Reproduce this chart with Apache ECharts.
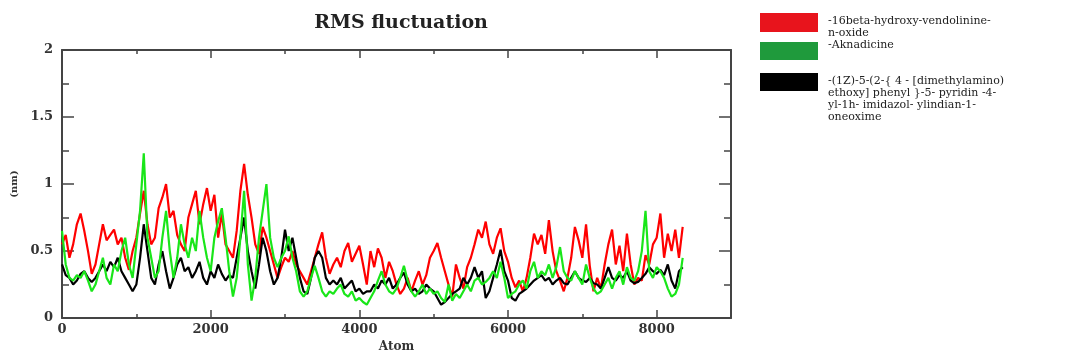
<!DOCTYPE html>
<html>
<head>
<meta charset="utf-8">
<script src="https://cdn.jsdelivr.net/npm/echarts@6/dist/echarts.min.js"></script>
<style>
  html, body { margin: 0; padding: 0; background: #fff; }
  #chart { width: 1065px; height: 358px; }
</style>
</head>
<body>
<div id="chart"></div>
<script>
// RMSF per atom, every 50 atoms (nm)
const atomStep = 50;
const xTicks = [0, 2000, 4000, 6000, 8000];
const yTicks = [0, 0.5, 1, 1.5, 2];

const seriesNames = [
    "-16beta-hydroxy-vendolinine-\nn-oxide",
    "-Aknadicine",
    "-(1Z)-5-(2-{ 4 - [dimethylamino)\nethoxy] phenyl }-5- pyridin -4-\nyl-1h- imidazol- ylindian-1-\noneoxime"
];

const red = [
    0.55, 0.62, 0.45, 0.55, 0.70, 0.78, 0.65, 0.50, 0.33, 0.40,
    0.55, 0.70, 0.58, 0.62, 0.66, 0.55, 0.60, 0.45, 0.36, 0.50,
    0.60, 0.78, 0.95, 0.70, 0.55, 0.60, 0.82, 0.90, 1.00, 0.75,
    0.80, 0.62, 0.55, 0.50, 0.75, 0.85, 0.95, 0.70, 0.85, 0.97,
    0.80, 0.92, 0.60, 0.78, 0.55, 0.50, 0.45, 0.65, 0.95, 1.15,
    0.92, 0.75, 0.55, 0.48, 0.68, 0.60, 0.50, 0.40, 0.30, 0.38,
    0.45, 0.42, 0.50, 0.40, 0.35, 0.30, 0.25, 0.35, 0.45, 0.55,
    0.64, 0.45, 0.33, 0.40, 0.45, 0.38, 0.50, 0.56, 0.42, 0.48,
    0.54, 0.40, 0.25, 0.50, 0.38, 0.52, 0.45, 0.30, 0.42, 0.35,
    0.25, 0.18, 0.22, 0.30, 0.20, 0.28, 0.35, 0.25, 0.32, 0.45,
    0.50, 0.56, 0.45, 0.35, 0.25, 0.16, 0.40, 0.30, 0.22, 0.38,
    0.45, 0.55, 0.66, 0.60, 0.72, 0.55, 0.48, 0.60, 0.67, 0.50,
    0.42, 0.30, 0.23, 0.28, 0.20, 0.30, 0.45, 0.63, 0.55, 0.62,
    0.48, 0.73, 0.50, 0.35, 0.28, 0.20, 0.30, 0.45, 0.68, 0.58,
    0.45, 0.70, 0.39, 0.20, 0.30, 0.22, 0.40, 0.55, 0.66, 0.40,
    0.54, 0.35, 0.63, 0.40, 0.25, 0.30, 0.28, 0.47, 0.40, 0.55,
    0.60, 0.78, 0.45, 0.63, 0.50, 0.66, 0.45, 0.68
];

const green = [
    0.65, 0.40, 0.30, 0.28, 0.32, 0.30, 0.35, 0.28, 0.20, 0.25,
    0.35, 0.45, 0.30, 0.25, 0.40, 0.35, 0.50, 0.60, 0.40, 0.30,
    0.55, 0.80, 1.23, 0.60, 0.45, 0.30, 0.35, 0.60, 0.80, 0.50,
    0.30, 0.45, 0.70, 0.55, 0.45, 0.60, 0.50, 0.80, 0.60, 0.45,
    0.35, 0.60, 0.72, 0.82, 0.60, 0.35, 0.16, 0.30, 0.60, 0.95,
    0.40, 0.13, 0.30, 0.60, 0.80, 1.00, 0.60, 0.45, 0.38, 0.45,
    0.50, 0.61, 0.45, 0.35, 0.20, 0.16, 0.20, 0.30, 0.39, 0.30,
    0.20, 0.16, 0.20, 0.18, 0.22, 0.25, 0.18, 0.16, 0.20, 0.13,
    0.15, 0.12, 0.10, 0.15, 0.20, 0.28, 0.35, 0.25, 0.20, 0.18,
    0.22, 0.30, 0.39, 0.28, 0.20, 0.16, 0.20, 0.25, 0.18, 0.22,
    0.18, 0.20, 0.15, 0.12, 0.25, 0.13, 0.18, 0.15, 0.20, 0.25,
    0.20, 0.28, 0.30, 0.25, 0.27, 0.30, 0.35, 0.30, 0.42, 0.30,
    0.15, 0.18, 0.20, 0.25, 0.28, 0.22, 0.35, 0.42, 0.30, 0.35,
    0.32, 0.40, 0.30, 0.38, 0.53, 0.35, 0.30, 0.28, 0.35, 0.30,
    0.25, 0.40, 0.30, 0.22, 0.18, 0.20, 0.25, 0.30, 0.22, 0.30,
    0.35, 0.25, 0.38, 0.30, 0.28, 0.35, 0.50, 0.80, 0.35, 0.30,
    0.38, 0.35, 0.30, 0.22, 0.16, 0.18, 0.25, 0.45
];

const black = [
    0.40, 0.32, 0.30, 0.25, 0.28, 0.33, 0.35, 0.30, 0.27, 0.30,
    0.35, 0.40, 0.35, 0.42, 0.38, 0.45, 0.35, 0.30, 0.25, 0.20,
    0.25, 0.45, 0.70, 0.50, 0.30, 0.25, 0.40, 0.50, 0.35, 0.22,
    0.30, 0.40, 0.45, 0.35, 0.38, 0.30, 0.35, 0.42, 0.30, 0.25,
    0.35, 0.30, 0.40, 0.33, 0.28, 0.32, 0.30, 0.45, 0.60, 0.75,
    0.50, 0.35, 0.22, 0.40, 0.60, 0.50, 0.35, 0.25, 0.30, 0.45,
    0.66, 0.50, 0.60, 0.45, 0.30, 0.20, 0.18, 0.30, 0.45, 0.50,
    0.45, 0.30, 0.25, 0.28, 0.25, 0.30, 0.22, 0.25, 0.28, 0.20,
    0.22, 0.18, 0.20, 0.20, 0.25, 0.22, 0.28, 0.25, 0.30, 0.22,
    0.25, 0.30, 0.34, 0.25, 0.20, 0.22, 0.18, 0.20, 0.25, 0.22,
    0.20, 0.15, 0.10, 0.12, 0.15, 0.18, 0.20, 0.22, 0.30, 0.25,
    0.30, 0.38, 0.30, 0.35, 0.15, 0.20, 0.30, 0.40, 0.51, 0.35,
    0.28, 0.15, 0.13, 0.18, 0.20, 0.22, 0.25, 0.28, 0.30, 0.32,
    0.28, 0.30, 0.25, 0.28, 0.30, 0.26, 0.25, 0.30, 0.35, 0.30,
    0.28, 0.27, 0.30, 0.26, 0.25, 0.22, 0.30, 0.38, 0.30, 0.28,
    0.32, 0.30, 0.35, 0.28, 0.26, 0.27, 0.30, 0.33, 0.38, 0.35,
    0.33, 0.36, 0.32, 0.40, 0.28, 0.22, 0.35, 0.38
];

function toPoints(vals) {
    return vals.map((v, i) => [i * atomStep, v]);
}

const axisColor = "#444";
const serif = "DejaVu Serif";

const chart = echarts.init(document.getElementById("chart"));

// frame axes: ticks point inward on all four sides
function frameAxis(extra, tickLen, minorLen) {
    return Object.assign({
        type: "value",
        axisLine: { show: true, onZero: false, lineStyle: { color: axisColor, width: 2 } },
        axisTick: { show: true, inside: true, length: tickLen, lineStyle: { color: axisColor, width: 1.5 } },
        minorTick: { show: true, splitNumber: 2, length: minorLen, lineStyle: { color: axisColor, width: 1.5 } },
        splitLine: { show: false },
        axisLabel: { show: false }
    }, extra);
}

const labelStyle = {
    show: true,
    color: "#333",
    fontFamily: serif,
    fontWeight: "bold",
    fontSize: 13
};

chart.setOption({
    animation: false,
    backgroundColor: "#fff",
    title: {
        text: "RMS fluctuation",
        left: 396,
        top: 9,
        textAlign: "center",
        textStyle: { fontFamily: serif, fontWeight: "bold", fontSize: 19, color: "#222" }
    },
    grid: { left: 62, right: 334, top: 50, bottom: 26 },
    xAxis: [
        frameAxis({
            position: "bottom",
            min: 0, max: 9000, interval: 2000,
            axisLabel: Object.assign({ margin: 5, formatter: v => xTicks.includes(v) ? String(v) : "" }, labelStyle),
            name: "Atom",
            nameLocation: "middle",
            nameGap: 16,
            nameTextStyle: { fontFamily: serif, fontWeight: "bold", fontSize: 12, color: "#333" }
        }, 8, 4),
        frameAxis({ position: "top", min: 0, max: 9000, interval: 2000 }, 8, 4)
    ],
    yAxis: [
        frameAxis({
            position: "left",
            min: 0, max: 2, interval: 0.5,
            axisLabel: Object.assign({ margin: 9, formatter: v => yTicks.includes(v) ? String(v) : "" }, labelStyle),
            name: "(nm)",
            nameLocation: "middle",
            nameGap: 35,
            nameRotate: 90,
            nameTextStyle: { fontFamily: serif, fontWeight: "bold", fontSize: 10, color: "#333" }
        }, 12, 7),
        frameAxis({ position: "right", min: 0, max: 2, interval: 0.5 }, 12, 7)
    ],
    series: [
        {
            name: seriesNames[0],
            type: "line",
            data: toPoints(red),
            showSymbol: false,
            lineStyle: { color: "#ff0000", width: 2.2 },
            z: 2
        },
        {
            name: seriesNames[2],
            type: "line",
            data: toPoints(black),
            showSymbol: false,
            lineStyle: { color: "#000000", width: 2.2 },
            z: 3
        },
        {
            name: seriesNames[1],
            type: "line",
            data: toPoints(green),
            showSymbol: false,
            lineStyle: { color: "#19e619", width: 2.2 },
            z: 4
        }
    ],
    // legend drawn by hand: big swatches with wrapped names beside them
    graphic: [
        { type: "rect", left: 760, top: 13, shape: { width: 58, height: 19 }, style: { fill: "#e8141c" } },
        { type: "rect", left: 760, top: 42, shape: { width: 58, height: 18 }, style: { fill: "#1f9a3c" } },
        { type: "rect", left: 760, top: 73, shape: { width: 58, height: 18 }, style: { fill: "#000000" } },
        { type: "text", left: 828, top: 15, style: { text: seriesNames[0], fontFamily: serif, fontSize: 11, lineHeight: 12, fill: "#222" } },
        { type: "text", left: 828, top: 39, style: { text: seriesNames[1], fontFamily: serif, fontSize: 11, lineHeight: 12, fill: "#222" } },
        { type: "text", left: 828, top: 75, style: { text: seriesNames[2], fontFamily: serif, fontSize: 11, lineHeight: 12, fill: "#222" } }
    ]
});
</script>
</body>
</html>
